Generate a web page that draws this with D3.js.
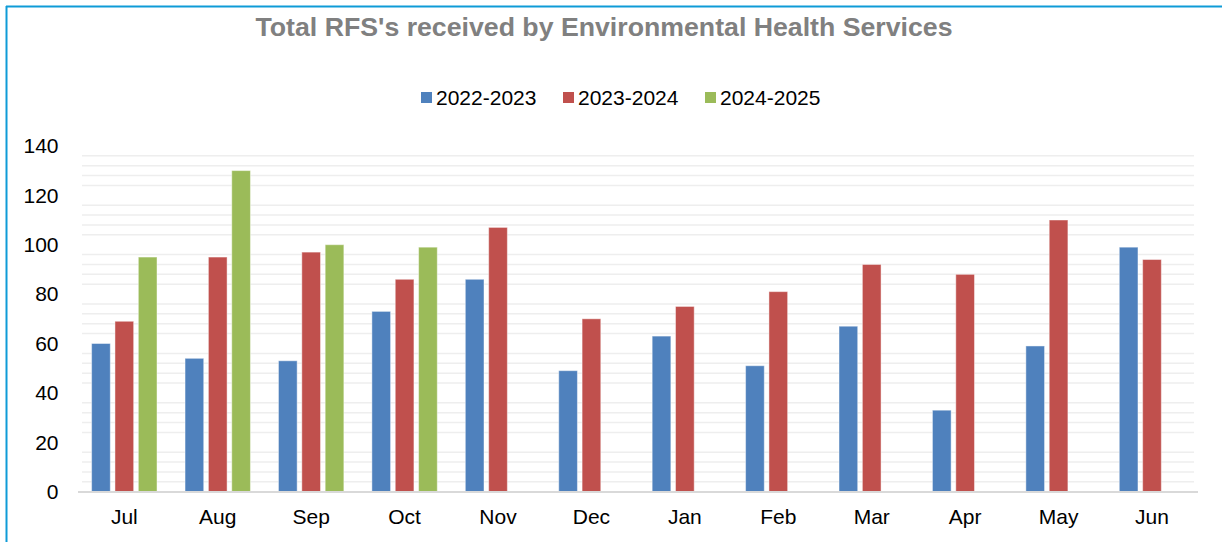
<!DOCTYPE html>
<html>
<head>
<meta charset="utf-8">
<script src="https://cdn.jsdelivr.net/npm/d3@7"></script>
<style>
  html, body { margin: 0; padding: 0; background: #fff; }
  svg { display: block; font-family: "Liberation Sans", Arial, sans-serif; }
</style>
</head>
<body>
<svg id="chart" width="1222" height="542"></svg>
<script>
const months = ["Jul","Aug","Sep","Oct","Nov","Dec","Jan","Feb","Mar","Apr","May","Jun"];
const seriesNames = ["2022-2023","2023-2024","2024-2025"];
const seriesColors = ["#4f81bd","#c0504d","#9bbb59"];
const s2022 = [60, 54, 53, 73, 86, 49, 63, 51, 67, 33, 59, 99];
const s2023 = [69, 95, 97, 86, 107, 70, 75, 81, 92, 88, 110, 94];
const s2024 = [95, 130, 100, 99, null, null, null, null, null, null, null, null];
const yTicks = [0, 20, 40, 60, 80, 100, 120, 140];
const titleText = "Total RFS's received by Environmental Health Services";

const seriesValues = [s2022, s2023, s2024];
const svg = d3.select("#chart");

// frame border (top and left)
svg.append("line").attr("x1", 6).attr("x2", 1222).attr("y1", 6.5).attr("y2", 6.5)
  .attr("stroke", "#0f9bd7").attr("stroke-width", 2);
svg.append("line").attr("x1", 6.5).attr("x2", 6.5).attr("y1", 6).attr("y2", 542)
  .attr("stroke", "#0f9bd7").attr("stroke-width", 2);

const x0 = d3.scaleBand().domain(months).range([77.6, 1198.7]).paddingInner(0.3).paddingOuter(0.15);
const x1 = d3.scaleBand().domain(seriesNames).range([0, x0.bandwidth()]).paddingInner(0.2).paddingOuter(0);
const y = d3.scaleLinear().domain([0, 140]).range([491.7, 491.7 - 140 * 2.47]);

// minor gridlines every 4 units (major ones not drawn)
const minor = d3.range(4, 141, 4).filter(v => v % 20 !== 0);
svg.append("g").selectAll("line").data(minor).join("line")
  .attr("x1", 82).attr("x2", 1194)
  .attr("y1", d => y(d)).attr("y2", d => y(d))
  .attr("stroke", "#eeeeee").attr("stroke-width", 1.5);

// y axis labels
const yAxis = d3.axisLeft(y).tickValues(yTicks).tickSize(0).tickPadding(0);
const gy = svg.append("g").attr("transform", "translate(58.5,0)").call(yAxis);
gy.select(".domain").remove();
gy.selectAll("text").attr("font-size", 21).attr("fill", "#000")
  .attr("font-family", "'Liberation Sans', Arial, sans-serif");

// bars
const data = months.map((m, i) => ({ month: m, vals: seriesNames.map((s, j) => ({ s, j, v: seriesValues[j][i] })) }));
const groups = svg.append("g").selectAll("g").data(data).join("g")
  .attr("transform", d => `translate(${x0(d.month)},0)`);
groups.selectAll("rect").data(d => d.vals.filter(o => o.v != null)).join("rect")
  .attr("x", d => x1(d.s))
  .attr("width", x1.bandwidth())
  .attr("y", d => y(d.v))
  .attr("height", d => y(0) - y(d.v))
  .attr("fill", d => seriesColors[d.j])
  .attr("stroke", "rgba(255,255,255,0.45)")
  .attr("stroke-width", 1);

// x axis baseline
svg.append("line").attr("x1", 78).attr("x2", 1198).attr("y1", 492).attr("y2", 492)
  .attr("stroke", "#d9d9d9").attr("stroke-width", 2);

// x axis labels
const xAxis = d3.axisBottom(x0).tickSize(0).tickPadding(0);
const gx = svg.append("g").attr("transform", "translate(0,509)").call(xAxis);
gx.select(".domain").remove();
gx.selectAll("text").attr("font-size", 21).attr("fill", "#000").attr("dy", "0.71em")
  .attr("font-family", "'Liberation Sans', Arial, sans-serif");

// title
svg.append("text").attr("x", 604).attr("y", 36).attr("text-anchor", "middle")
  .attr("font-size", 26.7).attr("font-weight", "bold").attr("fill", "#808080")
  .text(titleText);

// legend
const legendX = [421, 563, 705];
const lg = svg.append("g").selectAll("g").data(seriesNames).join("g")
  .attr("transform", (d, i) => `translate(${legendX[i]},92)`);
lg.append("rect").attr("width", 11).attr("height", 11).attr("fill", (d, i) => seriesColors[i]);
lg.append("text").attr("x", 15).attr("y", 5.5).attr("dy", "0.35em")
  .attr("font-size", 21).attr("fill", "#000").text(d => d);
</script>
</body>
</html>
